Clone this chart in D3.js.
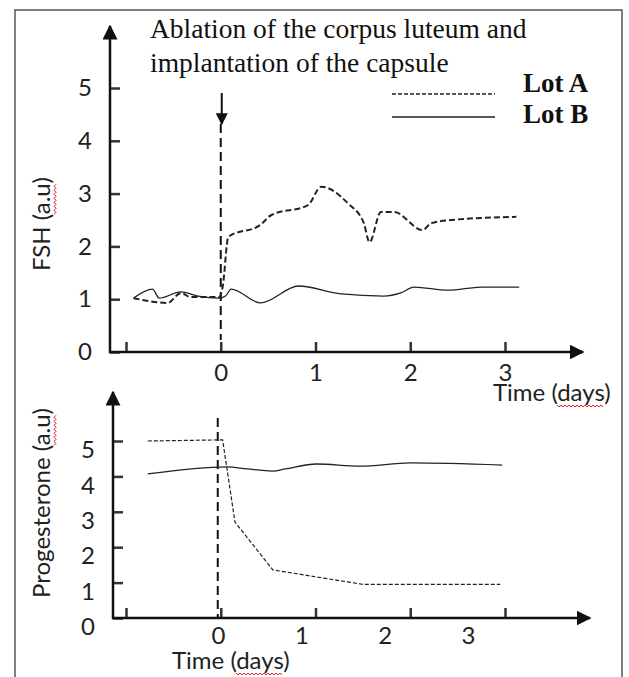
<!DOCTYPE html>
<html lang="en">
<head>
<meta charset="utf-8">
<title>FSH and progesterone after ablation</title>
<script src="https://cdn.jsdelivr.net/npm/d3@7"></script>
<style>
  body { margin: 0; background: #fff; }
  .tick text { font-family: Lato, "Open Sans", sans-serif; font-size: 24px; fill: #222; }
  .title { font-family: Lato, "Open Sans", sans-serif; font-size: 24px; fill: #222; }
  .serif { font-family: "Liberation Serif", "DejaVu Serif", serif; fill: #111; }
</style>
</head>
<body>
<div id="wrapper"></div>
<script>
// time in days, values in arbitrary units
const fshLotA = [
  [-0.92, 1.02], [-0.56, 0.93], [-0.42, 1.12], [-0.32, 1.04], [-0.02, 1.04],
  [0.02, 1.23], [0.08, 2.18], [0.42, 2.41], [0.53, 2.59], [0.92, 2.78],
  [1.06, 3.13], [1.34, 2.82], [1.51, 2.44], [1.57, 2.08], [1.69, 2.65],
  [1.83, 2.65], [2.13, 2.31], [2.22, 2.44], [2.43, 2.5], [3.12, 2.56]
]
const fshLotB = [
  [-0.92, 1.02], [-0.72, 1.19], [-0.65, 1.02], [-0.42, 1.14], [-0.24, 1.06],
  [-0.02, 1.02], [0.05, 1.06], [0.11, 1.19], [0.42, 0.93], [0.82, 1.25],
  [1.27, 1.10], [1.72, 1.06], [1.90, 1.12], [2.04, 1.23], [2.40, 1.17],
  [2.75, 1.23], [3.15, 1.23]
]
const progLotA = [
  [-0.77, 5.0], [-0.04, 5.03], [0.02, 5.03], [0.15, 2.71], [0.55, 1.36],
  [1.01, 1.16], [1.50, 0.95], [2.95, 0.95]
]
const progLotB = [
  [-0.77, 4.07], [0.07, 4.27], [0.28, 4.21], [0.55, 4.15], [0.68, 4.21],
  [1.01, 4.35], [1.47, 4.29], [2.0, 4.38], [2.97, 4.32]
]
const xTicks = [-1, 0, 1, 2, 3]
const xLabels = [0, 1, 2, 3]
const yTicks = [0, 1, 2, 3, 4, 5]
const annotation = ["Ablation of the corpus luteum and", "implantation of the capsule"]
const lots = ["Lot A", "Lot B"]

const width = 629, height = 677
const svg = d3.select("#wrapper").append("svg")
  .attr("width", width).attr("height", height)

svg.append("rect")
  .attr("x", 15).attr("y", 10).attr("width", 607).attr("height", 700)
  .attr("fill", "none").attr("stroke", "#555").attr("stroke-width", 1.5)

const defs = svg.append("defs")
defs.append("marker")
  .attr("id", "arrow").attr("viewBox", "0 0 10 10")
  .attr("refX", 9).attr("refY", 5)
  .attr("markerWidth", 6).attr("markerHeight", 6)
  .attr("markerUnits", "strokeWidth")
  .attr("orient", "auto")
  .append("path").attr("d", "M0,0 L10,5 L0,10 Z").attr("fill", "#111")

const x = d3.scaleLinear().domain([-1, 3]).range([126, 505])

// red spell-check squiggle under part of a text
function squiggle(parent, textEl, from, count, anchorMiddle) {
  const node = textEl.node()
  const total = node.getComputedTextLength()
  const start = node.getSubStringLength(0, from) + (anchorMiddle ? -total / 2 : 0)
  const len = node.getSubStringLength(from, count)
  const x0 = +textEl.attr("x") || 0
  const y0 = (+textEl.attr("y") || 0) + 4
  let d = `M${x0 + start},${y0}`
  for (let i = 2, k = 0; i <= len; i += 2, k++) {
    d += ` L${x0 + start + i},${y0 + (k % 2 === 0 ? 2 : 0)}`
  }
  parent.append("path").attr("d", d)
    .attr("fill", "none").attr("stroke", "#e01010").attr("stroke-width", 1)
}

function drawPanel(opt) {
  const y = d3.scaleLinear().domain([0, 5]).range([opt.bottom, opt.top5])
  const g = svg.append("g")

  // y axis
  const yAxis = g.append("g")
    .attr("transform", `translate(${opt.axisX},0)`)
    .call(d3.axisLeft(y).tickValues(yTicks).tickSize(-10).tickPadding(18)
      .tickSizeOuter(0).tickFormat(d3.format("d")))
  yAxis.select(".domain").remove()
  yAxis.selectAll(".tick line").attr("stroke", "#333").attr("stroke-width", 2.5)
  yAxis.selectAll(".tick text").attr("transform", `translate(0,${opt.yLabelShift})`)

  // x axis ticks
  const xAxis = g.append("g")
    .attr("transform", `translate(0,${opt.bottom})`)
    .call(d3.axisBottom(x).tickValues(xTicks).tickSize(-10).tickSizeOuter(0)
      .tickFormat(opt.xLabelScale ? "" : (d => d < 0 ? "" : d)).tickPadding(12))
  xAxis.select(".domain").remove()
  xAxis.selectAll(".tick line").attr("stroke", "#333").attr("stroke-width", 2.5)

  if (opt.xLabelScale) {
    const labAxis = g.append("g")
      .attr("transform", `translate(0,${opt.bottom})`)
      .call(d3.axisBottom(opt.xLabelScale).tickValues(xLabels).tickSize(0)
        .tickPadding(9).tickFormat(d3.format("d")))
    labAxis.select(".domain").remove()
  }

  // axis lines with arrows
  g.append("line")
    .attr("x1", opt.axisX).attr("x2", opt.axisX)
    .attr("y1", opt.bottom + 1).attr("y2", opt.arrowTop)
    .attr("stroke", "#111").attr("stroke-width", 2.5)
    .attr("marker-end", "url(#arrow)")
  g.append("line")
    .attr("x1", opt.axisX - 1).attr("x2", opt.arrowRight)
    .attr("y1", opt.bottom).attr("y2", opt.bottom)
    .attr("stroke", "#111").attr("stroke-width", 2.5)
    .attr("marker-end", "url(#arrow)")

  // event line at day 0
  g.append("line")
    .attr("x1", x(0) + opt.eventShift).attr("x2", x(0) + opt.eventShift)
    .attr("y1", opt.eventTop).attr("y2", opt.eventBottom)
    .attr("stroke", "#111").attr("stroke-width", 2)
    .attr("stroke-dasharray", "9,5")

  const line = d3.line().x(d => x(d[0])).y(d => y(d[1]))

  g.append("path").datum(opt.lotA)
    .attr("d", line.curve(opt.curveA))
    .attr("fill", "none").attr("stroke", "#222")
    .attr("stroke-width", opt.widthA).attr("stroke-dasharray", opt.dashA)
  g.append("path").datum(opt.lotB)
    .attr("d", line.curve(d3.curveMonotoneX))
    .attr("fill", "none").attr("stroke", "#222").attr("stroke-width", 1.3)

  // y title
  const ytg = g.append("g")
    .attr("transform", `translate(${opt.titleX},${opt.titleY}) rotate(-90)`)
  const yt = ytg.append("text").attr("class", "title")
    .attr("text-anchor", "middle")
    .text(`${opt.yTitle} (a.u)`)
  squiggle(ytg, yt, opt.yTitle.length + 2, 3, true)

  // x title
  const xt = g.append("text").attr("class", "title")
    .attr("x", opt.xTitleX).attr("y", opt.xTitleY)
    .text("Time (days)")
  squiggle(g, xt, 6, 4, false)
}

drawPanel({
  top5: 88, bottom: 352, axisX: 110, arrowTop: 26, arrowRight: 583,
  yLabelShift: 0, xLabelScale: null,
  eventShift: 0, eventTop: 124, eventBottom: 340,
  lotA: fshLotA, lotB: fshLotB, curveA: d3.curveMonotoneX,
  widthA: 2, dashA: "6,3",
  yTitle: "FSH", titleX: 50, titleY: 224,
  xTitleX: 493, xTitleY: 401
})

drawPanel({
  top5: 441, bottom: 618, axisX: 113, arrowTop: 392, arrowRight: 590,
  yLabelShift: 9, xLabelScale: d3.scaleLinear().domain([0, 3]).range([218, 468]),
  eventShift: -3, eventTop: 418, eventBottom: 617,
  lotA: progLotA, lotB: progLotB, curveA: d3.curveLinear,
  widthA: 1.2, dashA: "4,2",
  yTitle: "Progesterone", titleX: 50, titleY: 503,
  xTitleX: 172, xTitleY: 669
})

// annotation arrow at day 0
svg.append("line")
  .attr("x1", x(0) + 1).attr("x2", x(0) + 1)
  .attr("y1", 93).attr("y2", 124)
  .attr("stroke", "#111").attr("stroke-width", 2)
  .attr("marker-end", "url(#arrow)")

svg.selectAll(".annot")
  .data(annotation)
  .join("text")
  .attr("class", "serif annot")
  .attr("x", 150)
  .attr("y", (d, i) => 38 + i * 34)
  .style("font-size", "27.5px")
  .text(d => d)

// legend
const legend = svg.append("g")
legend.selectAll("line")
  .data(lots)
  .join("line")
  .attr("x1", 392).attr("x2", 495)
  .attr("y1", (d, i) => 94 + i * 23).attr("y2", (d, i) => 94 + i * 23)
  .attr("stroke", "#222").attr("stroke-width", 1.4)
  .attr("stroke-dasharray", (d, i) => i === 0 ? "4,2" : null)
legend.selectAll("text")
  .data(lots)
  .join("text")
  .attr("class", "serif")
  .attr("x", 523)
  .attr("y", (d, i) => 92 + i * 31)
  .style("font-size", "27px").style("font-weight", "bold")
  .text(d => d)
</script>
</body>
</html>
